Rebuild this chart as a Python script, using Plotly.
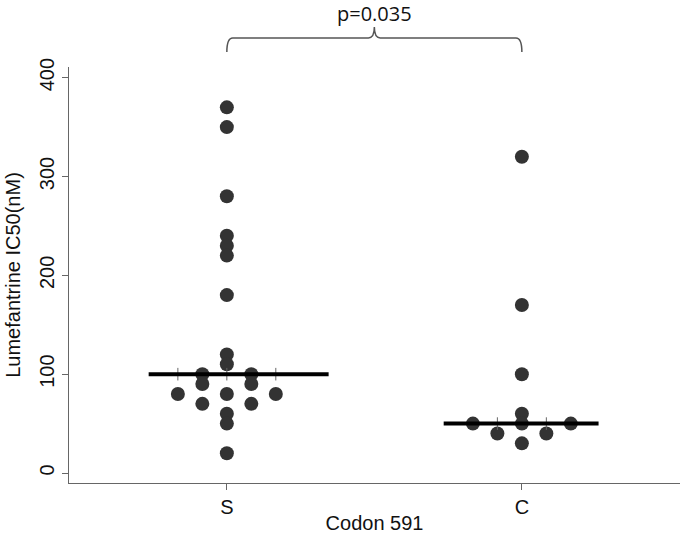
import numpy as np
import plotly.graph_objects as go

# Lumefantrine IC50 (nM) by codon 591 genotype
groups = ["S", "C"]
s_values = [370, 350, 280, 240, 230, 220, 180, 120, 110, 100, 100,
            90, 90, 80, 80, 80, 70, 70, 60, 50, 20]
c_values = [320, 170, 100, 60, 50, 50, 50, 40, 40, 30]
p_text = "p=0.035"

y_ticks = [0, 100, 200, 300, 400]

STEP = 0.083          # horizontal spacing of stacked dots
FONT = "Liberation Sans, Arial, sans-serif"
DOT = "#333333"


def dot_offsets(values):
    # spread equal values side by side, like a Stata dotplot
    vals = np.array(values)
    offs = np.zeros(len(vals))
    for v in np.unique(vals):
        idx = np.where(vals == v)[0]
        n = len(idx)
        for i, k in enumerate(idx):
            offs[k] = STEP * (2 * i - (n - 1))
    return offs


fig = go.Figure()

data = {"S": s_values, "C": c_values}
line_ext = {"S": (-0.265, 0.345), "C": (-0.265, 0.26)}
tick_slots = {"S": [-2, 0, 2], "C": [-1, 1]}

for gi, g in enumerate(groups):
    vals = data[g]
    xs = gi + dot_offsets(vals)
    fig.add_trace(go.Scatter(x=xs, y=vals, mode="markers",
                             marker=dict(size=14, color=DOT),
                             showlegend=False, hoverinfo="y"))

for gi, g in enumerate(groups):
    med = float(np.median(data[g]))
    # little ticks sitting on the median line
    fig.add_trace(go.Scatter(x=[gi + STEP * s for s in tick_slots[g]],
                             y=[med] * len(tick_slots[g]), mode="markers",
                             marker=dict(symbol="line-ns", size=9,
                                         line=dict(color="#666666", width=1)),
                             showlegend=False, hoverinfo="skip"))
    x0, x1 = line_ext[g]
    fig.add_trace(go.Scatter(x=[gi + x0, gi + x1], y=[med, med], mode="lines",
                             line=dict(color="black", width=4),
                             showlegend=False, hoverinfo="skip"))

# significance bracket between the groups
yb, yh, yn = 1.036, 1.070, 1.096
path = ("M 0,{b} Q 0,{h} 0.02,{h} L 0.48,{h} Q 0.5,{h} 0.5,{n} "
        "Q 0.5,{h} 0.52,{h} L 0.98,{h} Q 1,{h} 1,{b}").format(b=yb, h=yh, n=yn)
fig.add_shape(type="path", path=path, xref="x", yref="paper",
              line=dict(color="#555555", width=1.5))
fig.add_annotation(x=0.5, y=1.128, xref="x", yref="paper", text=p_text,
                   yanchor="middle", xanchor="center", borderpad=0,
                   showarrow=False, font=dict(family="Open Sans", size=20, color="#111111"))

fig.update_xaxes(range=[-0.535, 1.536], tickvals=[0, 1], ticktext=groups,
                 automargin=False,
                 showgrid=False, zeroline=False, showline=True,
                 linecolor="#666666", linewidth=1, ticks="outside", ticklen=6,
                 tickcolor="#666666",
                 title=dict(text="Codon 591", standoff=4,
                            font=dict(family=FONT, size=20, color="#111111")),
                 tickfont=dict(family=FONT, size=20, color="#111111"))
fig.update_yaxes(range=[-10.1, 410.8], tickvals=y_ticks, tickangle=-90,
                 automargin=False,
                 showgrid=False, zeroline=False, showline=True,
                 linecolor="#666666", linewidth=1, ticks="outside", ticklen=6,
                 tickcolor="#666666",
                 title=dict(text="Lumefantrine IC50(nM)", standoff=10,
                            font=dict(family=FONT, size=20, color="#111111")),
                 tickfont=dict(family=FONT, size=20, color="#111111"))

fig.update_layout(width=680, height=534,
                  margin=dict(l=69, r=0, t=67, b=51),
                  plot_bgcolor="white", paper_bgcolor="white")

# drop the page's default body margin so the figure sits at the corner
fig.write_html("out.html", config={"displayModeBar": False},
               post_script="document.body.style.margin='0px';")
